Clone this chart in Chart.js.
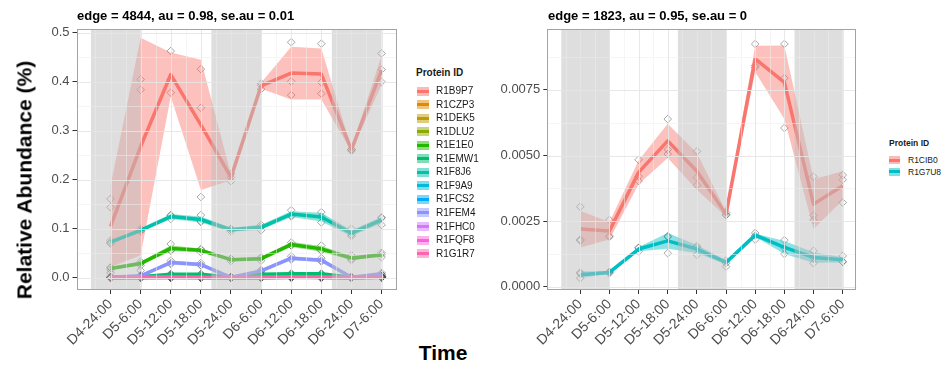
<!DOCTYPE html>
<html>
<head>
<meta charset="utf-8">
<script src="https://cdn.jsdelivr.net/npm/chart.js@4.4.0/dist/chart.umd.min.js"></script>
<style>
body{margin:0;background:#fff;font-family:"Liberation Sans",Arial,sans-serif;}
#wrap{position:relative;width:950px;height:367px;overflow:hidden;background:#fff;}
canvas{position:absolute;top:0;}
.ttl{position:absolute;font-weight:bold;font-size:13px;color:#000;white-space:nowrap;line-height:1;}
.ytitle{position:absolute;font-weight:bold;font-size:21px;color:#000;white-space:nowrap;line-height:1;transform:translate(-50%,-50%) rotate(-90deg);}
.xtitle{position:absolute;font-weight:bold;font-size:21px;color:#000;line-height:1;transform:translate(-50%,-50%);}
.leg{position:absolute;color:#1a1a1a;white-space:nowrap;}
.leg .lt{position:absolute;left:0;font-weight:bold;line-height:1;transform:translateY(-50%);}
.leg .key{position:absolute;left:0;}
.leg .key i{position:absolute;left:0;right:0;top:50%;height:3px;margin-top:-1.5px;}
.leg .txt{position:absolute;transform:translateY(-50%);line-height:1;}
</style>
</head>
<body>
<div id="wrap">
  <canvas id="left" width="405" height="367" style="left:0"></canvas>
  <canvas id="right" width="400" height="367" style="left:470px"></canvas>
  <div class="ttl" style="left:77px;top:9px">edge = 4844, au = 0.98, se.au = 0.01</div>
  <div class="ttl" style="left:548px;top:9px">edge = 1823, au = 0.95, se.au = 0</div>
  <div class="ytitle" style="left:24px;top:180px">Relative Abundance (%)</div>
  <div class="xtitle" style="left:443px;top:352px">Time</div>
  <div class="leg" id="legLeft" style="left:416px;top:0"></div>
  <div class="leg" id="legRight" style="left:889px;top:0"></div>
</div>
<script>
// sampling points and dark periods (in tick units)
const times = ['D4-24:00','D5-6:00','D5-12:00','D5-18:00','D5-24:00','D6-6:00','D6-12:00','D6-18:00','D6-24:00','D7-6:00'];
const nightBands = [[-0.65, 1], [3.35, 5], [7.35, 9]];

const proteinsLeft = ['R1B9P7','R1CZP3','R1DEK5','R1DLU2','R1E1E0','R1EMW1','R1F8J6','R1F9A9','R1FCS2','R1FEM4','R1FHC0','R1FQF8','R1G1R7'];
const proteinsRight = ['R1CIB0','R1G7U8'];
const hueLeft = ['#F8766D','#E18A00','#BE9C00','#8CAB00','#24B700','#00BE70','#00C1AB','#00BBDA','#00ACFC','#8B93FF','#D575FE','#F962DD','#FF65AC'];
const hueRight = ['#F8766D','#00BFC4'];

// cluster edge 4844
const mean_R1B9P7 = [0.105, 0.268, 0.415, 0.312, 0.205, 0.392, 0.418, 0.416, 0.261, 0.424];
const sd_R1B9P7   = [0.083, 0.222, 0.045, 0.133, 0.006, 0.006, 0.054, 0.052, 0.003, 0.030];
const reps_R1B9P7 = [
  [0.161, 0.405, 0.463, 0.426, 0.197, 0.397, 0.481, 0.478, 0.262, 0.458],
  [0.144, 0.384, 0.378, 0.347, 0.205, 0.385, 0.401, 0.399, 0.259, 0.425],
  [0.010, 0.015, 0.405, 0.165, 0.212, 0.393, 0.373, 0.376, 0.262, 0.400]
];
const mean_R1CZP3 = [0.001, 0.001, 0.002, 0.002, 0.001, 0.001, 0.002, 0.002, 0.001, 0.002];
const sd_R1CZP3   = [0.0005, 0.0005, 0.001, 0.001, 0.0005, 0.0005, 0.001, 0.001, 0.0005, 0.001];
const reps_R1CZP3 = [
  [0.001, 0.001, 0.003, 0.002, 0.001, 0.001, 0.003, 0.002, 0.001, 0.003],
  [0.000, 0.001, 0.002, 0.002, 0.001, 0.001, 0.002, 0.002, 0.000, 0.002],
  [0.001, 0.002, 0.001, 0.001, 0.001, 0.002, 0.001, 0.002, 0.001, 0.002]
];
const mean_R1DEK5 = [0.000, 0.001, 0.001, 0.001, 0.000, 0.001, 0.001, 0.001, 0.000, 0.001];
const sd_R1DEK5   = [0.0003, 0.0005, 0.0005, 0.0005, 0.0003, 0.0005, 0.0005, 0.0005, 0.0003, 0.0005];
const reps_R1DEK5 = [
  [0.000, 0.001, 0.001, 0.001, 0.000, 0.001, 0.002, 0.001, 0.000, 0.001],
  [0.000, 0.001, 0.001, 0.001, 0.000, 0.000, 0.001, 0.001, 0.000, 0.001],
  [0.001, 0.000, 0.001, 0.001, 0.000, 0.001, 0.001, 0.001, 0.001, 0.002]
];
const mean_R1DLU2 = [0.001, 0.002, 0.004, 0.003, 0.001, 0.002, 0.004, 0.004, 0.001, 0.003];
const sd_R1DLU2   = [0.0005, 0.001, 0.001, 0.001, 0.0005, 0.001, 0.001, 0.001, 0.0005, 0.001];
const reps_R1DLU2 = [
  [0.001, 0.003, 0.005, 0.004, 0.001, 0.003, 0.005, 0.005, 0.001, 0.004],
  [0.001, 0.002, 0.004, 0.003, 0.001, 0.002, 0.004, 0.003, 0.001, 0.003],
  [0.000, 0.001, 0.003, 0.002, 0.001, 0.001, 0.003, 0.004, 0.001, 0.002]
];
const mean_R1E1E0 = [0.019, 0.029, 0.060, 0.056, 0.037, 0.039, 0.068, 0.059, 0.040, 0.047];
const sd_R1E1E0   = [0.003, 0.004, 0.006, 0.004, 0.003, 0.004, 0.005, 0.006, 0.004, 0.004];
const reps_R1E1E0 = [
  [0.021, 0.033, 0.069, 0.058, 0.039, 0.042, 0.072, 0.066, 0.046, 0.051],
  [0.016, 0.025, 0.055, 0.052, 0.034, 0.035, 0.066, 0.055, 0.036, 0.042],
  [0.020, 0.029, 0.056, 0.058, 0.038, 0.040, 0.066, 0.056, 0.038, 0.048]
];
const mean_R1EMW1 = [0.000, 0.002, 0.007, 0.007, 0.001, 0.007, 0.008, 0.008, 0.001, 0.002];
const sd_R1EMW1   = [0.0005, 0.001, 0.001, 0.001, 0.0005, 0.001, 0.001, 0.001, 0.0005, 0.001];
const reps_R1EMW1 = [
  [0.000, 0.003, 0.008, 0.008, 0.001, 0.008, 0.009, 0.009, 0.001, 0.003],
  [0.000, 0.002, 0.007, 0.006, 0.001, 0.006, 0.008, 0.007, 0.001, 0.002],
  [0.001, 0.001, 0.006, 0.007, 0.001, 0.007, 0.007, 0.008, 0.000, 0.001]
];
const mean_R1F8J6 = [0.073, 0.097, 0.125, 0.119, 0.098, 0.103, 0.130, 0.124, 0.091, 0.118];
const sd_R1F8J6   = [0.003, 0.004, 0.005, 0.006, 0.004, 0.005, 0.006, 0.009, 0.006, 0.006];
const reps_R1F8J6 = [
  [0.072, 0.100, 0.128, 0.128, 0.100, 0.108, 0.138, 0.134, 0.100, 0.123],
  [0.070, 0.095, 0.120, 0.115, 0.095, 0.097, 0.125, 0.125, 0.085, 0.108],
  [0.076, 0.096, 0.127, 0.114, 0.099, 0.104, 0.127, 0.113, 0.088, 0.122]
];
const mean_R1F9A9 = [0.000, 0.000, 0.001, 0.001, 0.000, 0.000, 0.001, 0.001, 0.000, 0.001];
const sd_R1F9A9   = [0.0003, 0.0003, 0.0005, 0.0005, 0.0003, 0.0003, 0.0005, 0.0005, 0.0003, 0.0005];
const reps_R1F9A9 = [
  [0.000, 0.000, 0.001, 0.001, 0.000, 0.000, 0.001, 0.001, 0.000, 0.001],
  [0.000, 0.000, 0.001, 0.000, 0.000, 0.000, 0.001, 0.001, 0.000, 0.001],
  [0.001, 0.000, 0.000, 0.001, 0.000, 0.001, 0.001, 0.000, 0.000, 0.002]
];
const mean_R1FCS2 = [0.001, 0.001, 0.002, 0.001, 0.001, 0.001, 0.002, 0.002, 0.000, 0.002];
const sd_R1FCS2   = [0.0005, 0.0005, 0.001, 0.0005, 0.0005, 0.0005, 0.001, 0.001, 0.0003, 0.001];
const reps_R1FCS2 = [
  [0.001, 0.001, 0.003, 0.002, 0.001, 0.001, 0.002, 0.003, 0.000, 0.003],
  [0.001, 0.001, 0.002, 0.001, 0.001, 0.001, 0.002, 0.002, 0.000, 0.002],
  [0.000, 0.001, 0.001, 0.001, 0.000, 0.001, 0.001, 0.001, 0.001, 0.001]
];
const mean_R1FEM4 = [0.001, 0.004, 0.031, 0.027, 0.001, 0.014, 0.040, 0.036, 0.001, 0.008];
const sd_R1FEM4   = [0.001, 0.002, 0.004, 0.004, 0.001, 0.003, 0.004, 0.004, 0.001, 0.002];
const reps_R1FEM4 = [
  [0.000, 0.005, 0.035, 0.030, 0.000, 0.016, 0.044, 0.040, 0.000, 0.010],
  [0.001, 0.003, 0.028, 0.025, 0.001, 0.012, 0.037, 0.033, 0.001, 0.007],
  [0.002, 0.004, 0.030, 0.026, 0.002, 0.014, 0.039, 0.035, 0.002, 0.007]
];
const mean_R1FHC0 = [0.000, 0.001, 0.001, 0.000, 0.000, 0.000, 0.001, 0.001, 0.000, 0.001];
const sd_R1FHC0   = [0.0003, 0.0005, 0.0005, 0.0003, 0.0003, 0.0003, 0.0005, 0.0005, 0.0003, 0.0005];
const reps_R1FHC0 = [
  [0.000, 0.001, 0.001, 0.000, 0.000, 0.000, 0.001, 0.001, 0.000, 0.002],
  [0.000, 0.001, 0.001, 0.000, 0.000, 0.001, 0.001, 0.001, 0.000, 0.001],
  [0.001, 0.000, 0.000, 0.001, 0.000, 0.000, 0.000, 0.000, 0.000, 0.001]
];
const mean_R1FQF8 = [0.000, 0.000, 0.000, 0.000, 0.000, 0.000, 0.001, 0.000, 0.000, 0.001];
const sd_R1FQF8   = [0.0002, 0.0002, 0.0003, 0.0002, 0.0002, 0.0002, 0.0004, 0.0002, 0.0002, 0.0004];
const reps_R1FQF8 = [
  [0.000, 0.000, 0.000, 0.000, 0.000, 0.000, 0.001, 0.000, 0.000, 0.001],
  [0.000, 0.000, 0.001, 0.000, 0.000, 0.000, 0.001, 0.000, 0.000, 0.001],
  [0.000, 0.000, 0.000, 0.000, 0.000, 0.000, 0.000, 0.000, 0.000, 0.000]
];
const mean_R1G1R7 = [0.001, 0.001, 0.001, 0.001, 0.000, 0.001, 0.001, 0.001, 0.001, 0.002];
const sd_R1G1R7   = [0.0005, 0.0005, 0.0005, 0.0005, 0.0003, 0.0005, 0.0005, 0.0005, 0.0005, 0.001];
const reps_R1G1R7 = [
  [0.001, 0.001, 0.001, 0.001, 0.000, 0.001, 0.002, 0.001, 0.001, 0.003],
  [0.001, 0.001, 0.001, 0.001, 0.000, 0.001, 0.001, 0.001, 0.001, 0.002],
  [0.000, 0.001, 0.000, 0.001, 0.000, 0.000, 0.001, 0.001, 0.000, 0.001]
];

// cluster edge 1823
const mean_R1CIB0 = [0.00220, 0.00213, 0.00436, 0.00556, 0.00440, 0.00277, 0.00868, 0.00779, 0.00315, 0.00385];
const sd_R1CIB0   = [0.00070, 0.00033, 0.00045, 0.00065, 0.00070, 0.00010, 0.00050, 0.00140, 0.00095, 0.00055];
const reps_R1CIB0 = [
  [0.00305, 0.00255, 0.00484, 0.00639, 0.00516, 0.00273, 0.00925, 0.00925, 0.00420, 0.00426],
  [0.00180, 0.00194, 0.00403, 0.00523, 0.00417, 0.00275, 0.00836, 0.00795, 0.00272, 0.00321],
  [0.00176, 0.00190, 0.00421, 0.00506, 0.00387, 0.00283, 0.00843, 0.00605, 0.00255, 0.00408]
];
const mean_R1G7U8 = [0.00046, 0.00055, 0.00144, 0.00175, 0.00144, 0.00093, 0.00197, 0.00150, 0.00112, 0.00103];
const sd_R1G7U8   = [0.00012, 0.00005, 0.00008, 0.00030, 0.00015, 0.00008, 0.00006, 0.00025, 0.00020, 0.00010];
const reps_R1G7U8 = [
  [0.00055, 0.00055, 0.00148, 0.00193, 0.00155, 0.00090, 0.00195, 0.00178, 0.00137, 0.00118],
  [0.00033, 0.00052, 0.00135, 0.00128, 0.00122, 0.00077, 0.00180, 0.00125, 0.00090, 0.00095],
  [0.00050, 0.00058, 0.00149, 0.00190, 0.00150, 0.00100, 0.00205, 0.00148, 0.00110, 0.00096]
];

const yTicksLeft = [0, 0.1, 0.2, 0.3, 0.4, 0.5];
const yTicksRight = [0, 0.0025, 0.005, 0.0075];

const seriesLeft = [
  ['R1B9P7', mean_R1B9P7, sd_R1B9P7, reps_R1B9P7],
  ['R1CZP3', mean_R1CZP3, sd_R1CZP3, reps_R1CZP3],
  ['R1DEK5', mean_R1DEK5, sd_R1DEK5, reps_R1DEK5],
  ['R1DLU2', mean_R1DLU2, sd_R1DLU2, reps_R1DLU2],
  ['R1E1E0', mean_R1E1E0, sd_R1E1E0, reps_R1E1E0],
  ['R1EMW1', mean_R1EMW1, sd_R1EMW1, reps_R1EMW1],
  ['R1F8J6', mean_R1F8J6, sd_R1F8J6, reps_R1F8J6],
  ['R1F9A9', mean_R1F9A9, sd_R1F9A9, reps_R1F9A9],
  ['R1FCS2', mean_R1FCS2, sd_R1FCS2, reps_R1FCS2],
  ['R1FEM4', mean_R1FEM4, sd_R1FEM4, reps_R1FEM4],
  ['R1FHC0', mean_R1FHC0, sd_R1FHC0, reps_R1FHC0],
  ['R1FQF8', mean_R1FQF8, sd_R1FQF8, reps_R1FQF8],
  ['R1G1R7', mean_R1G1R7, sd_R1G1R7, reps_R1G1R7]
];
const seriesRight = [
  ['R1CIB0', mean_R1CIB0, sd_R1CIB0, reps_R1CIB0],
  ['R1G7U8', mean_R1G7U8, sd_R1G7U8, reps_R1G7U8]
];

function hexA(hex, a){
  const n = parseInt(hex.slice(1), 16);
  return `rgba(${n >> 16},${(n >> 8) & 255},${n & 255},${a})`;
}
const pts = arr => arr.map((v, k) => ({x: k, y: v}));

// points at the bottom, then the +-sd ribbons, then the mean lines on top
function buildDatasets(series, hues){
  const sets = [], n = series.length;
  series.forEach(([name, mean, sd, reps], i) => {
    const col = hues[i];
    reps.forEach(r => sets.push({
      label: name + ' rep', data: pts(r), showLine: false, order: 3000 + n - i,
      pointStyle: 'rectRot', pointRadius: 3.8, pointBorderWidth: 1,
      pointBorderColor: 'rgba(80,80,80,0.5)', pointBackgroundColor: 'rgba(0,0,0,0)'
    }));
    sets.push({label: name + ' hi', data: pts(mean.map((m, k) => m + sd[k])), fill: '+1',
      backgroundColor: hexA(col, 0.45), borderWidth: 0, pointRadius: 0, order: 2000 + n - i});
    sets.push({label: name + ' lo', data: pts(mean.map((m, k) => m - sd[k])), fill: false,
      borderWidth: 0, pointRadius: 0, order: 2000 + n - i});
    sets.push({label: name, data: pts(mean), borderColor: col, borderWidth: 3.5, pointRadius: 0,
      tension: 0, borderJoinStyle: 'round', order: 1000 + n - i});
  });
  return sets;
}

// night shading, grid and border are painted over the data
const panelDeco = {
  id: 'panelDeco',
  afterDatasetsDraw(chart, args, o){
    const {ctx, chartArea: a, scales: {x, y}} = chart;
    ctx.save();
    ctx.beginPath();
    ctx.rect(a.left, a.top, a.right - a.left, a.bottom - a.top);
    ctx.clip();
    ctx.fillStyle = 'rgba(190,190,190,0.5)';
    nightBands.forEach(([s, e]) => {
      const x0 = x.getPixelForValue(s), x1 = x.getPixelForValue(e);
      ctx.fillRect(x0, a.top, x1 - x0, a.bottom - a.top);
    });
    const vline = (v, c, w) => {
      const p = Math.round(x.getPixelForValue(v)) + 0.5;
      ctx.strokeStyle = c; ctx.lineWidth = w;
      ctx.beginPath(); ctx.moveTo(p, a.top); ctx.lineTo(p, a.bottom); ctx.stroke();
    };
    const hline = (v, c, w) => {
      const p = Math.round(y.getPixelForValue(v)) + 0.5;
      ctx.strokeStyle = c; ctx.lineWidth = w;
      ctx.beginPath(); ctx.moveTo(a.left, p); ctx.lineTo(a.right, p); ctx.stroke();
    };
    const minorC = 'rgba(238,238,238,0.75)', majorC = 'rgba(229,229,229,0.9)';
    for (let i = -1; i < times.length; i++) vline(i + 0.5, minorC, 0.7);
    const t = o.yMajor, step = t[1] - t[0];
    for (let v = t[0] - step / 2; v <= y.max; v += step) hline(v, minorC, 0.7);
    times.forEach((_, i) => vline(i, majorC, 1));
    t.forEach(v => hline(v, majorC, 1));
    ctx.restore();
    ctx.strokeStyle = '#a3a3a3';
    ctx.lineWidth = 1;
    ctx.strokeRect(Math.round(a.left) + 0.5, Math.round(a.top) + 0.5,
      Math.round(a.right - a.left) - 1, Math.round(a.bottom - a.top) - 1);
  }
};

function makePanel(id, series, hues, yMin, yMax, yTicks, digits, yWidth, padRight){
  return new Chart(document.getElementById(id), {
    type: 'line',
    data: {datasets: buildDatasets(series, hues)},
    plugins: [panelDeco],
    options: {
      responsive: false,
      animation: false,
      events: [],
      layout: {padding: {top: 29, right: padRight, left: 0, bottom: 0}},
      plugins: {
        legend: {display: false},
        tooltip: {enabled: false},
        filler: {propagate: false},
        panelDeco: {yMajor: yTicks}
      },
      scales: {
        x: {
          type: 'linear', min: -1.13, max: 9.48,
          afterBuildTicks: s => { s.ticks = times.map((_, i) => ({value: i})); },
          afterFit: s => { s.height = 77; },
          ticks: {autoSkip: false, maxRotation: 45, minRotation: 45, padding: 2,
            color: '#4d4d4d', font: {size: 14, family: '"Liberation Sans", Arial'},
            callback: v => times[v]},
          grid: {drawOnChartArea: false, drawTicks: true, tickLength: 4, tickColor: '#333', lineWidth: 1},
          border: {display: false}
        },
        y: {
          type: 'linear', min: yMin, max: yMax,
          afterBuildTicks: s => { s.ticks = yTicks.map(v => ({value: v})); },
          afterFit: s => { s.width = yWidth; },
          ticks: {padding: 3, color: '#4d4d4d', font: {size: 13, family: '"Liberation Sans", Arial'},
            callback: v => Number(v).toFixed(digits)},
          grid: {drawOnChartArea: false, drawTicks: true, tickLength: 4, tickColor: '#333', lineWidth: 1},
          border: {display: false}
        }
      }
    }
  });
}

makePanel('left', seriesLeft, hueLeft, -0.025, 0.508, yTicksLeft, 1, 76.5, 9);
makePanel('right', seriesRight, hueRight, -0.00012, 0.00982, yTicksRight, 4, 77.3, 13.3);

// legends
function buildLegend(id, names, hues, o){
  const box = document.getElementById(id);
  const title = document.createElement('div');
  title.className = 'lt';
  title.style.top = o.titleY + 'px';
  title.style.fontSize = o.font + 'px';
  title.textContent = 'Protein ID';
  box.appendChild(title);
  names.forEach((name, i) => {
    const cy = o.firstY + i * o.gap;
    const key = document.createElement('div');
    key.className = 'key';
    key.style.cssText = `left:${o.keyX}px;top:${cy - o.keyH / 2}px;width:${o.keyW}px;height:${o.keyH}px;background:${hexA(hues[i], 0.5)}`;
    const line = document.createElement('i');
    line.style.background = hues[i];
    key.appendChild(line);
    const txt = document.createElement('div');
    txt.className = 'txt';
    txt.style.cssText = `left:${o.textX}px;top:${cy}px;font-size:${o.font}px`;
    txt.textContent = name;
    box.appendChild(key);
    box.appendChild(txt);
  });
}
buildLegend('legLeft', proteinsLeft, hueLeft, {titleY: 73, firstY: 91, gap: 13.55, keyX: 1, keyW: 12, keyH: 9, textX: 20, font: 10});
buildLegend('legRight', proteinsRight, hueRight, {titleY: 143, firstY: 160, gap: 11.7, keyX: 0, keyW: 11, keyH: 8, textX: 19, font: 8.5});
</script>
</body>
</html>
